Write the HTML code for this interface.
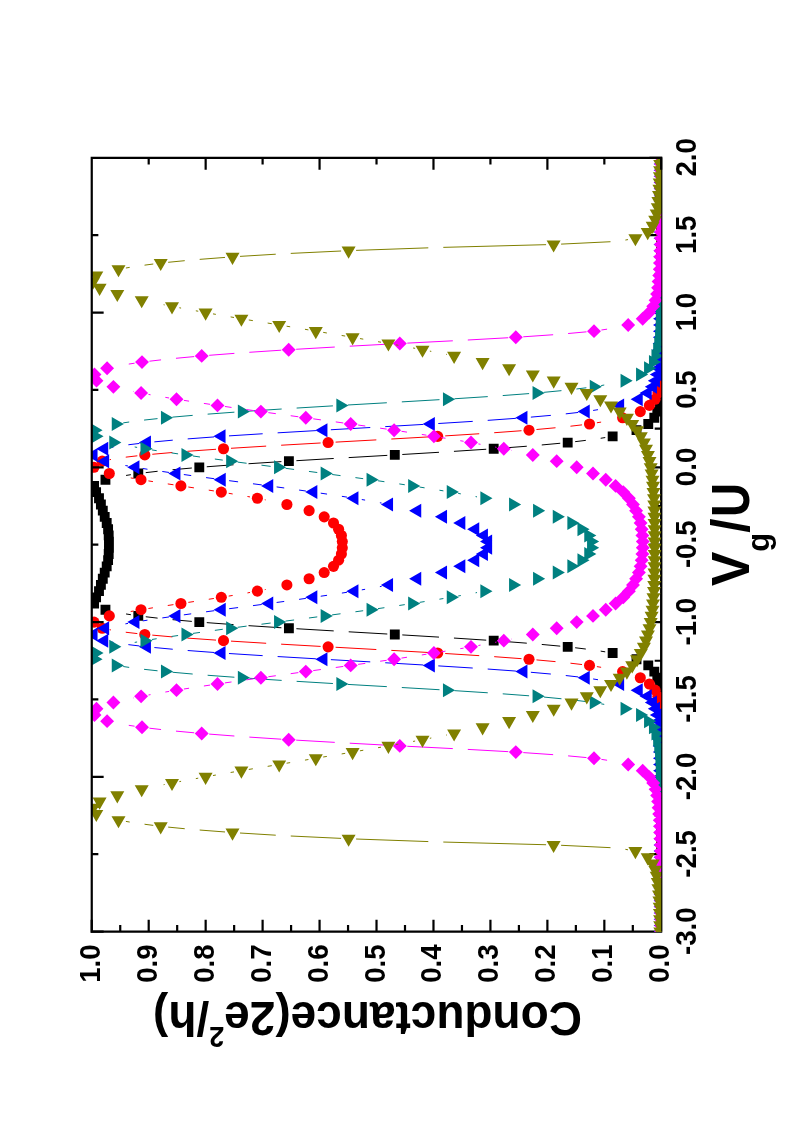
<!DOCTYPE html>
<html><head><meta charset="utf-8"><title>Conductance vs Vg/U</title>
<style>html,body{margin:0;padding:0;background:#fff}body{width:793px;height:1135px;overflow:hidden;font-family:"Liberation Sans",sans-serif}svg{display:block;will-change:transform}</style>
</head><body>
<svg width="793" height="1135" viewBox="0 0 793 1135">
<defs><clipPath id="cp"><rect x="92" y="158" width="570" height="774"/></clipPath></defs>
<rect width="793" height="1135" fill="#fff"/>
<path d="M661.15 156.70000000000002V932.7M90.65 931.6H662.25M661.3 931.60h-11.9M661.3 892.91h-6.6M661.3 854.22h-11.9M661.3 815.53h-6.6M661.3 776.84h-11.9M661.3 738.15h-6.6M661.3 699.46h-11.9M661.3 660.77h-6.6M661.3 622.08h-11.9M661.3 583.39h-6.6M661.3 544.70h-11.9M661.3 506.01h-6.6M661.3 467.32h-11.9M661.3 428.63h-6.6M661.3 389.94h-11.9M661.3 351.25h-6.6M661.3 312.56h-11.9M661.3 273.87h-6.6M661.3 235.18h-11.9M661.3 196.49h-6.6M661.3 157.80h-11.9M661.15 931.6v-11.9M632.82 931.6v-6.6M604.34 931.6v-11.9M575.87 931.6v-6.6M547.39 931.6v-11.9M518.91 931.6v-6.6M490.43 931.6v-11.9M461.96 931.6v-6.6M433.48 931.6v-11.9M405.00 931.6v-6.6M376.52 931.6v-11.9M348.05 931.6v-6.6M319.57 931.6v-11.9M291.09 931.6v-6.6M262.61 931.6v-11.9M234.14 931.6v-6.6M205.66 931.6v-11.9M177.18 931.6v-6.6M148.70 931.6v-11.9M120.23 931.6v-6.6M91.75 931.6v-11.9" stroke="#000" stroke-width="2.2" fill="none" stroke-linecap="butt"/>
<g clip-path="url(#cp)">
<path d="M605.24 651.85L600.68 651.12M585.82 649.04L575.15 647.74M560.23 646.15L541.76 644.44M526.81 643.18L501.18 641.22M486.22 640.16L453.94 638.05M438.97 637.11L402.29 634.91M387.31 634.03L348.69 631.80M333.71 630.92L296.39 628.71M281.42 627.79L248.52 625.66M233.56 624.62L206.78 622.63M191.83 621.40L172.53 619.66M157.61 618.12L145.75 616.75M130.89 614.72L126.05 613.96M126.05 475.44L130.89 474.68M145.75 472.65L157.61 471.28M172.53 469.74L191.83 468.00M206.78 466.77L233.56 464.78M248.52 463.74L281.42 461.61M296.39 460.69L333.71 458.48M348.69 457.60L387.31 455.37M402.29 454.49L438.97 452.29M453.94 451.35L486.22 449.24M501.18 448.18L526.81 446.22M541.76 444.96L560.23 443.25M575.15 441.66L585.82 440.36M600.68 438.28L605.24 437.55" stroke="#000000" stroke-width="1" fill="none"/>
<path d="M656.27 926.67h9.86v9.86h-9.86zM656.27 920.48h9.86v9.86h-9.86zM656.27 914.29h9.86v9.86h-9.86zM656.27 908.10h9.86v9.86h-9.86zM656.27 901.91h9.86v9.86h-9.86zM656.27 895.72h9.86v9.86h-9.86zM656.27 889.53h9.86v9.86h-9.86zM656.27 883.34h9.86v9.86h-9.86zM656.27 877.15h9.86v9.86h-9.86zM656.27 870.96h9.86v9.86h-9.86zM656.27 864.77h9.86v9.86h-9.86zM656.27 858.58h9.86v9.86h-9.86zM656.27 852.39h9.86v9.86h-9.86zM656.26 846.19h9.86v9.86h-9.86zM656.26 840.00h9.86v9.86h-9.86zM656.26 833.81h9.86v9.86h-9.86zM656.26 827.62h9.86v9.86h-9.86zM656.26 821.43h9.86v9.86h-9.86zM656.26 815.24h9.86v9.86h-9.86zM656.26 809.05h9.86v9.86h-9.86zM656.25 802.86h9.86v9.86h-9.86zM656.25 796.67h9.86v9.86h-9.86zM656.25 790.48h9.86v9.86h-9.86zM656.25 784.29h9.86v9.86h-9.86zM656.24 778.10h9.86v9.86h-9.86zM656.24 771.91h9.86v9.86h-9.86zM656.24 765.72h9.86v9.86h-9.86zM656.23 759.53h9.86v9.86h-9.86zM656.23 753.34h9.86v9.86h-9.86zM656.22 747.15h9.86v9.86h-9.86zM656.22 740.96h9.86v9.86h-9.86zM656.21 734.77h9.86v9.86h-9.86zM656.21 728.58h9.86v9.86h-9.86zM656.20 722.39h9.86v9.86h-9.86zM656.20 716.20h9.86v9.86h-9.86zM656.19 710.01h9.86v9.86h-9.86zM656.18 703.82h9.86v9.86h-9.86zM656.18 697.63h9.86v9.86h-9.86zM656.17 691.43h9.86v9.86h-9.86zM655.97 685.24h9.86v9.86h-9.86zM655.07 679.05h9.86v9.86h-9.86zM652.37 672.86h9.86v9.86h-9.86zM649.37 666.67h9.86v9.86h-9.86zM643.33 660.48h9.86v9.86h-9.86zM631.57 654.29h9.86v9.86h-9.86zM607.72 648.10h9.86v9.86h-9.86zM562.77 641.91h9.86v9.86h-9.86zM488.77 635.72h9.86v9.86h-9.86zM389.87 629.53h9.86v9.86h-9.86zM283.97 623.34h9.86v9.86h-9.86zM194.37 617.15h9.86v9.86h-9.86zM133.37 610.96h9.86v9.86h-9.86zM100.52 604.77h9.86v9.86h-9.86zM89.17 598.58h9.86v9.86h-9.86zM91.17 592.39h9.86v9.86h-9.86zM94.07 586.20h9.86v9.86h-9.86zM95.97 580.01h9.86v9.86h-9.86zM97.87 573.82h9.86v9.86h-9.86zM99.77 567.63h9.86v9.86h-9.86zM101.77 561.44h9.86v9.86h-9.86zM103.17 555.25h9.86v9.86h-9.86zM103.77 549.06h9.86v9.86h-9.86zM104.02 542.87h9.86v9.86h-9.86zM104.02 536.67h9.86v9.86h-9.86zM103.77 530.48h9.86v9.86h-9.86zM103.17 524.29h9.86v9.86h-9.86zM101.77 518.10h9.86v9.86h-9.86zM99.77 511.91h9.86v9.86h-9.86zM97.87 505.72h9.86v9.86h-9.86zM95.97 499.53h9.86v9.86h-9.86zM94.07 493.34h9.86v9.86h-9.86zM91.17 487.15h9.86v9.86h-9.86zM89.17 480.96h9.86v9.86h-9.86zM100.52 474.77h9.86v9.86h-9.86zM133.37 468.58h9.86v9.86h-9.86zM194.37 462.39h9.86v9.86h-9.86zM283.97 456.20h9.86v9.86h-9.86zM389.87 450.01h9.86v9.86h-9.86zM488.77 443.82h9.86v9.86h-9.86zM562.77 437.63h9.86v9.86h-9.86zM607.72 431.44h9.86v9.86h-9.86zM631.57 425.25h9.86v9.86h-9.86zM643.33 419.06h9.86v9.86h-9.86zM649.37 412.87h9.86v9.86h-9.86zM652.37 406.68h9.86v9.86h-9.86zM655.07 400.49h9.86v9.86h-9.86zM655.97 394.30h9.86v9.86h-9.86zM656.17 388.11h9.86v9.86h-9.86zM656.18 381.91h9.86v9.86h-9.86zM656.18 375.72h9.86v9.86h-9.86zM656.19 369.53h9.86v9.86h-9.86zM656.20 363.34h9.86v9.86h-9.86zM656.20 357.15h9.86v9.86h-9.86zM656.21 350.96h9.86v9.86h-9.86zM656.21 344.77h9.86v9.86h-9.86zM656.22 338.58h9.86v9.86h-9.86zM656.22 332.39h9.86v9.86h-9.86zM656.23 326.20h9.86v9.86h-9.86zM656.23 320.01h9.86v9.86h-9.86zM656.24 313.82h9.86v9.86h-9.86zM656.24 307.63h9.86v9.86h-9.86zM656.24 301.44h9.86v9.86h-9.86zM656.25 295.25h9.86v9.86h-9.86zM656.25 289.06h9.86v9.86h-9.86zM656.25 282.87h9.86v9.86h-9.86zM656.25 276.68h9.86v9.86h-9.86zM656.26 270.49h9.86v9.86h-9.86zM656.26 264.30h9.86v9.86h-9.86zM656.26 258.11h9.86v9.86h-9.86zM656.26 251.92h9.86v9.86h-9.86zM656.26 245.73h9.86v9.86h-9.86zM656.26 239.54h9.86v9.86h-9.86zM656.26 233.35h9.86v9.86h-9.86zM656.27 227.15h9.86v9.86h-9.86zM656.27 220.96h9.86v9.86h-9.86zM656.27 214.77h9.86v9.86h-9.86zM656.27 208.58h9.86v9.86h-9.86zM656.27 202.39h9.86v9.86h-9.86zM656.27 196.20h9.86v9.86h-9.86zM656.27 190.01h9.86v9.86h-9.86zM656.27 183.82h9.86v9.86h-9.86zM656.27 177.63h9.86v9.86h-9.86zM656.27 171.44h9.86v9.86h-9.86zM656.27 165.25h9.86v9.86h-9.86zM656.27 159.06h9.86v9.86h-9.86zM656.27 152.87h9.86v9.86h-9.86z" fill="#000000"/>
<path d="M601.11 667.30L596.90 666.62M582.05 664.54L570.45 663.19M555.53 661.64L536.47 659.90M521.52 658.68L494.19 656.67M479.22 655.65L445.19 653.50M430.21 652.60L391.32 650.37M376.34 649.52L335.59 647.26M320.61 646.42L281.14 644.17M266.16 643.28L230.99 641.11M216.02 640.12L187.31 638.09M172.36 636.90L152.27 635.12M137.35 633.59L125.76 632.24M110.94 629.95L109.57 629.69M130.70 611.50L133.61 610.99M148.41 608.51L152.94 607.79M167.76 605.49L173.48 604.63M188.32 602.39L193.94 601.54M208.76 599.26L213.89 598.47M228.70 596.10L232.66 595.44M247.44 592.91L250.02 592.45M264.76 589.67L265.68 589.49M265.68 499.91L264.76 499.73M250.02 496.95L247.44 496.49M232.66 493.96L228.70 493.30M213.89 490.93L208.76 490.14M193.94 487.86L188.32 487.01M173.48 484.77L167.76 483.91M152.94 481.61L148.41 480.89M133.61 478.41L130.70 477.90M109.57 459.71L110.94 459.45M125.76 457.16L137.35 455.81M152.27 454.28L172.36 452.50M187.31 451.31L216.02 449.28M230.99 448.29L266.16 446.12M281.14 445.23L320.61 442.98M335.59 442.14L376.34 439.88M391.32 439.03L430.21 436.80M445.19 435.90L479.22 433.75M494.19 432.73L521.52 430.72M536.47 429.50L555.53 427.76M570.45 426.21L582.05 424.86M596.90 422.78L601.11 422.10" stroke="#ff0000" stroke-width="1" fill="none"/>
<g fill="#ff0000"><circle cx="661.20" cy="931.60" r="5.55"/><circle cx="661.20" cy="925.41" r="5.55"/><circle cx="661.20" cy="919.22" r="5.55"/><circle cx="661.20" cy="913.03" r="5.55"/><circle cx="661.20" cy="906.84" r="5.55"/><circle cx="661.20" cy="900.65" r="5.55"/><circle cx="661.20" cy="894.46" r="5.55"/><circle cx="661.20" cy="888.27" r="5.55"/><circle cx="661.19" cy="882.08" r="5.55"/><circle cx="661.19" cy="875.89" r="5.55"/><circle cx="661.19" cy="869.70" r="5.55"/><circle cx="661.18" cy="863.51" r="5.55"/><circle cx="661.18" cy="857.32" r="5.55"/><circle cx="661.18" cy="851.12" r="5.55"/><circle cx="661.17" cy="844.93" r="5.55"/><circle cx="661.17" cy="838.74" r="5.55"/><circle cx="661.16" cy="832.55" r="5.55"/><circle cx="661.15" cy="826.36" r="5.55"/><circle cx="661.14" cy="820.17" r="5.55"/><circle cx="661.13" cy="813.98" r="5.55"/><circle cx="661.12" cy="807.79" r="5.55"/><circle cx="661.11" cy="801.60" r="5.55"/><circle cx="661.10" cy="795.41" r="5.55"/><circle cx="661.09" cy="789.22" r="5.55"/><circle cx="661.07" cy="783.03" r="5.55"/><circle cx="661.06" cy="776.84" r="5.55"/><circle cx="661.04" cy="770.65" r="5.55"/><circle cx="661.02" cy="764.46" r="5.55"/><circle cx="661.00" cy="758.27" r="5.55"/><circle cx="660.98" cy="752.08" r="5.55"/><circle cx="660.96" cy="745.89" r="5.55"/><circle cx="660.94" cy="739.70" r="5.55"/><circle cx="660.91" cy="733.51" r="5.55"/><circle cx="660.89" cy="727.32" r="5.55"/><circle cx="660.86" cy="721.13" r="5.55"/><circle cx="660.83" cy="714.94" r="5.55"/><circle cx="660.80" cy="708.75" r="5.55"/><circle cx="659.80" cy="702.56" r="5.55"/><circle cx="657.90" cy="696.36" r="5.55"/><circle cx="655.10" cy="690.17" r="5.55"/><circle cx="649.40" cy="683.98" r="5.55"/><circle cx="640.30" cy="677.79" r="5.55"/><circle cx="622.60" cy="671.60" r="5.55"/><circle cx="589.50" cy="665.41" r="5.55"/><circle cx="529.00" cy="659.22" r="5.55"/><circle cx="437.70" cy="653.03" r="5.55"/><circle cx="328.10" cy="646.84" r="5.55"/><circle cx="223.50" cy="640.65" r="5.55"/><circle cx="144.80" cy="634.46" r="5.55"/><circle cx="102.20" cy="628.27" r="5.55"/><circle cx="94.00" cy="622.08" r="5.55"/><circle cx="109.30" cy="615.89" r="5.55"/><circle cx="141.00" cy="609.70" r="5.55"/><circle cx="180.90" cy="603.51" r="5.55"/><circle cx="221.30" cy="597.32" r="5.55"/><circle cx="257.40" cy="591.13" r="5.55"/><circle cx="286.90" cy="584.94" r="5.55"/><circle cx="309.10" cy="578.75" r="5.55"/><circle cx="324.20" cy="572.56" r="5.55"/><circle cx="333.50" cy="566.37" r="5.55"/><circle cx="338.60" cy="560.18" r="5.55"/><circle cx="341.40" cy="553.99" r="5.55"/><circle cx="342.30" cy="547.80" r="5.55"/><circle cx="342.30" cy="541.60" r="5.55"/><circle cx="341.40" cy="535.41" r="5.55"/><circle cx="338.60" cy="529.22" r="5.55"/><circle cx="333.50" cy="523.03" r="5.55"/><circle cx="324.20" cy="516.84" r="5.55"/><circle cx="309.10" cy="510.65" r="5.55"/><circle cx="286.90" cy="504.46" r="5.55"/><circle cx="257.40" cy="498.27" r="5.55"/><circle cx="221.30" cy="492.08" r="5.55"/><circle cx="180.90" cy="485.89" r="5.55"/><circle cx="141.00" cy="479.70" r="5.55"/><circle cx="109.30" cy="473.51" r="5.55"/><circle cx="94.00" cy="467.32" r="5.55"/><circle cx="102.20" cy="461.13" r="5.55"/><circle cx="144.80" cy="454.94" r="5.55"/><circle cx="223.50" cy="448.75" r="5.55"/><circle cx="328.10" cy="442.56" r="5.55"/><circle cx="437.70" cy="436.37" r="5.55"/><circle cx="529.00" cy="430.18" r="5.55"/><circle cx="589.50" cy="423.99" r="5.55"/><circle cx="622.60" cy="417.80" r="5.55"/><circle cx="640.30" cy="411.61" r="5.55"/><circle cx="649.40" cy="405.42" r="5.55"/><circle cx="655.10" cy="399.23" r="5.55"/><circle cx="657.90" cy="393.04" r="5.55"/><circle cx="659.80" cy="386.84" r="5.55"/><circle cx="660.80" cy="380.65" r="5.55"/><circle cx="660.83" cy="374.46" r="5.55"/><circle cx="660.86" cy="368.27" r="5.55"/><circle cx="660.89" cy="362.08" r="5.55"/><circle cx="660.91" cy="355.89" r="5.55"/><circle cx="660.94" cy="349.70" r="5.55"/><circle cx="660.96" cy="343.51" r="5.55"/><circle cx="660.98" cy="337.32" r="5.55"/><circle cx="661.00" cy="331.13" r="5.55"/><circle cx="661.02" cy="324.94" r="5.55"/><circle cx="661.04" cy="318.75" r="5.55"/><circle cx="661.06" cy="312.56" r="5.55"/><circle cx="661.07" cy="306.37" r="5.55"/><circle cx="661.09" cy="300.18" r="5.55"/><circle cx="661.10" cy="293.99" r="5.55"/><circle cx="661.11" cy="287.80" r="5.55"/><circle cx="661.12" cy="281.61" r="5.55"/><circle cx="661.13" cy="275.42" r="5.55"/><circle cx="661.14" cy="269.23" r="5.55"/><circle cx="661.15" cy="263.04" r="5.55"/><circle cx="661.16" cy="256.85" r="5.55"/><circle cx="661.17" cy="250.66" r="5.55"/><circle cx="661.17" cy="244.47" r="5.55"/><circle cx="661.18" cy="238.28" r="5.55"/><circle cx="661.18" cy="232.08" r="5.55"/><circle cx="661.18" cy="225.89" r="5.55"/><circle cx="661.19" cy="219.70" r="5.55"/><circle cx="661.19" cy="213.51" r="5.55"/><circle cx="661.19" cy="207.32" r="5.55"/><circle cx="661.20" cy="201.13" r="5.55"/><circle cx="661.20" cy="194.94" r="5.55"/><circle cx="661.20" cy="188.75" r="5.55"/><circle cx="661.20" cy="182.56" r="5.55"/><circle cx="661.20" cy="176.37" r="5.55"/><circle cx="661.20" cy="170.18" r="5.55"/><circle cx="661.20" cy="163.99" r="5.55"/><circle cx="661.20" cy="157.80" r="5.55"/></g>
<path d="M598.01 679.73L593.11 678.96M578.25 676.95L565.77 675.54M550.85 674.04L530.87 672.27M515.92 671.07L487.70 669.04M472.74 668.04L438.29 665.88M423.31 664.98L385.23 662.75M370.25 661.89L330.89 659.65M315.91 658.79L277.63 656.56M262.66 655.65L228.98 653.51M214.02 652.47L187.70 650.50M172.75 649.24L154.37 647.54M139.45 645.96L128.35 644.63M113.53 642.38L111.57 642.02M125.38 623.86L128.02 623.39M142.81 620.90L147.47 620.16M162.30 617.92L168.98 616.96M183.83 614.86L191.21 613.83M206.07 611.80L214.27 610.70M229.14 608.73L238.09 607.57M252.97 605.63L261.76 604.48M276.63 602.48L284.22 601.44M299.07 599.35L305.88 598.38M320.72 596.23L327.05 595.31M341.88 593.07L346.99 592.28M361.79 589.86L365.12 589.30M379.88 586.65L381.63 586.32M381.63 503.08L379.88 502.75M365.12 500.10L361.79 499.54M346.99 497.12L341.88 496.33M327.05 494.09L320.72 493.17M305.88 491.02L299.07 490.05M284.22 487.96L276.63 486.92M261.76 484.92L252.97 483.77M238.09 481.83L229.14 480.67M214.27 478.70L206.07 477.60M191.21 475.57L183.83 474.54M168.98 472.44L162.30 471.48M147.47 469.24L142.81 468.50M128.02 466.01L125.38 465.54M111.57 447.38L113.53 447.02M128.35 444.77L139.45 443.44M154.37 441.86L172.75 440.16M187.70 438.90L214.02 436.93M228.98 435.89L262.66 433.75M277.63 432.84L315.91 430.61M330.89 429.75L370.25 427.51M385.23 426.65L423.31 424.42M438.29 423.52L472.74 421.36M487.70 420.36L515.92 418.33M530.87 417.13L550.85 415.36M565.77 413.86L578.25 412.45M593.11 410.44L598.01 409.67" stroke="#0000ff" stroke-width="1" fill="none"/>
<path d="M665.74 924.60L665.74 938.60L653.62 931.60zM665.74 918.41L665.74 932.41L653.62 925.41zM665.74 912.22L665.74 926.22L653.62 919.22zM665.74 906.03L665.74 920.03L653.62 913.03zM665.73 899.84L665.73 913.84L653.61 906.84zM665.73 893.65L665.73 907.65L653.61 900.65zM665.72 887.46L665.72 901.46L653.60 894.46zM665.72 881.27L665.72 895.27L653.60 888.27zM665.71 875.08L665.71 889.08L653.59 882.08zM665.70 868.89L665.70 882.89L653.58 875.89zM665.69 862.70L665.69 876.70L653.57 869.70zM665.68 856.51L665.68 870.51L653.56 863.51zM665.67 850.32L665.67 864.32L653.55 857.32zM665.66 844.12L665.66 858.12L653.54 851.12zM665.64 837.93L665.64 851.93L653.52 844.93zM665.63 831.74L665.63 845.74L653.51 838.74zM665.61 825.55L665.61 839.55L653.49 832.55zM665.60 819.36L665.60 833.36L653.48 826.36zM665.58 813.17L665.58 827.17L653.46 820.17zM665.56 806.98L665.56 820.98L653.44 813.98zM665.54 800.79L665.54 814.79L653.42 807.79zM665.50 794.60L665.50 808.60L653.38 801.60zM665.45 788.41L665.45 802.41L653.33 795.41zM665.37 782.22L665.37 796.22L653.25 789.22zM665.30 776.03L665.30 790.03L653.18 783.03zM665.24 769.84L665.24 783.84L653.12 776.84zM665.19 763.65L665.19 777.65L653.07 770.65zM665.14 757.46L665.14 771.46L653.02 764.46zM665.04 751.27L665.04 765.27L652.92 758.27zM664.94 745.08L664.94 759.08L652.82 752.08zM664.74 738.89L664.74 752.89L652.62 745.89zM664.44 732.70L664.44 746.70L652.32 739.70zM664.04 726.51L664.04 740.51L651.92 733.51zM663.64 720.32L663.64 734.32L651.52 727.32zM663.04 714.13L663.04 728.13L650.92 721.13zM661.94 707.94L661.94 721.94L649.82 714.94zM659.94 701.75L659.94 715.75L647.82 708.75zM656.94 695.56L656.94 709.56L644.82 702.56zM651.74 689.36L651.74 703.36L639.62 696.36zM642.74 683.17L642.74 697.17L630.62 690.17zM624.14 676.98L624.14 690.98L612.02 683.98zM589.74 670.79L589.74 684.79L577.62 677.79zM527.44 664.60L527.44 678.60L515.32 671.60zM434.84 658.41L434.84 672.41L422.72 665.41zM327.44 652.22L327.44 666.22L315.32 659.22zM225.54 646.03L225.54 660.03L213.42 653.03zM150.94 639.84L150.94 653.84L138.82 646.84zM108.24 633.65L108.24 647.65L96.12 640.65zM97.54 627.46L97.54 641.46L85.42 634.46zM109.14 621.27L109.14 635.27L97.02 628.27zM139.44 615.08L139.44 629.08L127.32 622.08zM180.44 608.89L180.44 622.89L168.32 615.89zM225.74 602.70L225.74 616.70L213.62 609.70zM273.24 596.51L273.24 610.51L261.12 603.51zM317.34 590.32L317.34 604.32L305.22 597.32zM358.44 584.13L358.44 598.13L346.32 591.13zM393.04 577.94L393.04 591.94L380.92 584.94zM421.24 571.75L421.24 585.75L409.12 578.75zM447.04 565.56L447.04 579.56L434.92 572.56zM465.34 559.37L465.34 573.37L453.22 566.37zM479.24 553.18L479.24 567.18L467.12 560.18zM487.94 546.99L487.94 560.99L475.82 553.99zM492.14 540.80L492.14 554.80L480.02 547.80zM492.14 534.60L492.14 548.60L480.02 541.60zM487.94 528.41L487.94 542.41L475.82 535.41zM479.24 522.22L479.24 536.22L467.12 529.22zM465.34 516.03L465.34 530.03L453.22 523.03zM447.04 509.84L447.04 523.84L434.92 516.84zM421.24 503.65L421.24 517.65L409.12 510.65zM393.04 497.46L393.04 511.46L380.92 504.46zM358.44 491.27L358.44 505.27L346.32 498.27zM317.34 485.08L317.34 499.08L305.22 492.08zM273.24 478.89L273.24 492.89L261.12 485.89zM225.74 472.70L225.74 486.70L213.62 479.70zM180.44 466.51L180.44 480.51L168.32 473.51zM139.44 460.32L139.44 474.32L127.32 467.32zM109.14 454.13L109.14 468.13L97.02 461.13zM97.54 447.94L97.54 461.94L85.42 454.94zM108.24 441.75L108.24 455.75L96.12 448.75zM150.94 435.56L150.94 449.56L138.82 442.56zM225.54 429.37L225.54 443.37L213.42 436.37zM327.44 423.18L327.44 437.18L315.32 430.18zM434.84 416.99L434.84 430.99L422.72 423.99zM527.44 410.80L527.44 424.80L515.32 417.80zM589.74 404.61L589.74 418.61L577.62 411.61zM624.14 398.42L624.14 412.42L612.02 405.42zM642.74 392.23L642.74 406.23L630.62 399.23zM651.74 386.04L651.74 400.04L639.62 393.04zM656.94 379.84L656.94 393.84L644.82 386.84zM659.94 373.65L659.94 387.65L647.82 380.65zM661.94 367.46L661.94 381.46L649.82 374.46zM663.04 361.27L663.04 375.27L650.92 368.27zM663.64 355.08L663.64 369.08L651.52 362.08zM664.04 348.89L664.04 362.89L651.92 355.89zM664.44 342.70L664.44 356.70L652.32 349.70zM664.74 336.51L664.74 350.51L652.62 343.51zM664.94 330.32L664.94 344.32L652.82 337.32zM665.04 324.13L665.04 338.13L652.92 331.13zM665.14 317.94L665.14 331.94L653.02 324.94zM665.19 311.75L665.19 325.75L653.07 318.75zM665.24 305.56L665.24 319.56L653.12 312.56zM665.30 299.37L665.30 313.37L653.18 306.37zM665.37 293.18L665.37 307.18L653.25 300.18zM665.45 286.99L665.45 300.99L653.33 293.99zM665.50 280.80L665.50 294.80L653.38 287.80zM665.54 274.61L665.54 288.61L653.42 281.61zM665.56 268.42L665.56 282.42L653.44 275.42zM665.58 262.23L665.58 276.23L653.46 269.23zM665.60 256.04L665.60 270.04L653.48 263.04zM665.61 249.85L665.61 263.85L653.49 256.85zM665.63 243.66L665.63 257.66L653.51 250.66zM665.64 237.47L665.64 251.47L653.52 244.47zM665.66 231.28L665.66 245.28L653.54 238.28zM665.67 225.08L665.67 239.08L653.55 232.08zM665.68 218.89L665.68 232.89L653.56 225.89zM665.69 212.70L665.69 226.70L653.57 219.70zM665.70 206.51L665.70 220.51L653.58 213.51zM665.71 200.32L665.71 214.32L653.59 207.32zM665.72 194.13L665.72 208.13L653.60 201.13zM665.72 187.94L665.72 201.94L653.60 194.94zM665.73 181.75L665.73 195.75L653.61 188.75zM665.73 175.56L665.73 189.56L653.61 182.56zM665.74 169.37L665.74 183.37L653.62 176.37zM665.74 163.18L665.74 177.18L653.62 170.18zM665.74 156.99L665.74 170.99L653.62 163.99zM665.74 150.80L665.74 164.80L653.62 157.80z" fill="#0000ff"/>
<path d="M604.24 704.37L601.19 703.84M586.36 701.63L576.37 700.39M561.46 698.75L544.07 697.08M529.12 695.81L502.72 693.83M487.76 692.79L454.48 690.65M439.51 689.73L401.82 687.52M386.84 686.65L347.89 684.41M332.91 683.53L296.63 681.34M281.66 680.40L249.38 678.28M234.42 677.24L207.63 675.25M192.68 674.04L172.47 672.26M157.54 670.79L144.07 669.32M129.20 667.40L123.22 666.52M134.69 642.42L137.12 641.98M151.91 639.48L156.68 638.73M171.51 636.48L178.08 635.53M192.93 633.41L199.99 632.41M214.85 630.36L222.77 629.28M237.64 627.30L246.59 626.14M261.46 624.22L270.66 623.04M285.54 621.10L294.09 619.97M308.96 617.99L317.27 616.88M332.13 614.90L340.54 613.78M355.41 611.78L363.17 610.72M378.02 608.62L384.43 607.69M399.26 605.48L404.79 604.64M419.61 602.35L424.60 601.57M439.41 599.19L443.40 598.54M458.18 596.01L460.84 595.54M475.59 592.81L477.03 592.54M477.03 496.86L475.59 496.59M460.84 493.86L458.18 493.39M443.40 490.86L439.41 490.21M424.60 487.83L419.61 487.05M404.79 484.76L399.26 483.92M384.43 481.71L378.02 480.78M363.17 478.68L355.41 477.62M340.54 475.62L332.13 474.50M317.27 472.52L308.96 471.41M294.09 469.43L285.54 468.30M270.66 466.36L261.46 465.18M246.59 463.26L237.64 462.10M222.77 460.12L214.85 459.04M199.99 456.99L192.93 455.99M178.08 453.87L171.51 452.92M156.68 450.67L151.91 449.92M137.12 447.42L134.69 446.98M123.22 422.88L129.20 422.00M144.07 420.08L157.54 418.61M172.47 417.14L192.68 415.36M207.63 414.15L234.42 412.16M249.38 411.12L281.66 409.00M296.63 408.06L332.91 405.87M347.89 404.99L386.84 402.75M401.82 401.88L439.51 399.67M454.48 398.75L487.76 396.61M502.72 395.57L529.12 393.59M544.07 392.32L561.46 390.65M576.37 389.01L586.36 387.77M601.19 385.56L604.24 385.03" stroke="#008080" stroke-width="1" fill="none"/>
<path d="M657.16 924.60L657.16 938.60L669.28 931.60zM657.16 918.41L657.16 932.41L669.28 925.41zM657.15 912.22L657.15 926.22L669.27 919.22zM657.14 906.03L657.14 920.03L669.26 913.03zM657.12 899.84L657.12 913.84L669.24 906.84zM657.10 893.65L657.10 907.65L669.22 900.65zM657.07 887.46L657.07 901.46L669.19 894.46zM657.05 881.27L657.05 895.27L669.17 888.27zM657.02 875.08L657.02 889.08L669.14 882.08zM656.99 868.89L656.99 882.89L669.11 875.89zM656.96 862.70L656.96 876.70L669.08 869.70zM656.93 856.51L656.93 870.51L669.05 863.51zM656.88 850.32L656.88 864.32L669.00 857.32zM656.83 844.12L656.83 858.12L668.95 851.12zM656.77 837.93L656.77 851.93L668.89 844.93zM656.71 831.74L656.71 845.74L668.83 838.74zM656.64 825.55L656.64 839.55L668.76 832.55zM656.57 819.36L656.57 833.36L668.69 826.36zM656.50 813.17L656.50 827.17L668.62 820.17zM656.43 806.98L656.43 820.98L668.55 813.98zM656.36 800.79L656.36 814.79L668.48 807.79zM656.29 794.60L656.29 808.60L668.41 801.60zM656.21 788.41L656.21 802.41L668.33 795.41zM656.13 782.22L656.13 796.22L668.25 789.22zM656.05 776.03L656.05 790.03L668.17 783.03zM655.96 769.84L655.96 783.84L668.08 776.84zM655.86 763.65L655.86 777.65L667.98 770.65zM655.76 757.46L655.76 771.46L667.88 764.46zM655.46 751.27L655.46 765.27L667.58 758.27zM655.06 745.08L655.06 759.08L667.18 752.08zM654.26 738.89L654.26 752.89L666.38 745.89zM653.16 732.70L653.16 746.70L665.28 739.70zM651.46 726.51L651.46 740.51L663.58 733.51zM648.96 720.32L648.96 734.32L661.08 727.32zM644.06 714.13L644.06 728.13L656.18 721.13zM636.06 707.94L636.06 721.94L648.18 714.94zM620.56 701.75L620.56 715.75L632.68 708.75zM589.76 695.56L589.76 709.56L601.88 702.56zM532.56 689.36L532.56 703.36L544.68 696.36zM442.96 683.17L442.96 697.17L455.08 690.17zM336.36 676.98L336.36 690.98L348.48 683.98zM237.86 670.79L237.86 684.79L249.98 677.79zM160.96 664.60L160.96 678.60L173.08 671.60zM111.76 658.41L111.76 672.41L123.88 665.41zM90.46 652.22L90.46 666.22L102.58 659.22zM91.46 646.03L91.46 660.03L103.58 653.03zM109.26 639.84L109.26 653.84L121.38 646.84zM140.46 633.65L140.46 647.65L152.58 640.65zM181.46 627.46L181.46 641.46L193.58 634.46zM226.16 621.27L226.16 635.27L238.28 628.27zM274.06 615.08L274.06 629.08L286.18 622.08zM320.66 608.89L320.66 622.89L332.78 615.89zM366.56 602.70L366.56 616.70L378.68 609.70zM408.16 596.51L408.16 610.51L420.28 603.51zM446.76 590.32L446.76 604.32L458.88 597.32zM480.36 584.13L480.36 598.13L492.48 591.13zM509.06 577.94L509.06 591.94L521.18 584.94zM533.06 571.75L533.06 585.75L545.18 578.75zM552.76 565.56L552.76 579.56L564.88 572.56zM567.36 559.37L567.36 573.37L579.48 566.37zM577.46 553.18L577.46 567.18L589.58 560.18zM584.26 546.99L584.26 560.99L596.38 553.99zM587.06 540.80L587.06 554.80L599.18 547.80zM587.06 534.60L587.06 548.60L599.18 541.60zM584.26 528.41L584.26 542.41L596.38 535.41zM577.46 522.22L577.46 536.22L589.58 529.22zM567.36 516.03L567.36 530.03L579.48 523.03zM552.76 509.84L552.76 523.84L564.88 516.84zM533.06 503.65L533.06 517.65L545.18 510.65zM509.06 497.46L509.06 511.46L521.18 504.46zM480.36 491.27L480.36 505.27L492.48 498.27zM446.76 485.08L446.76 499.08L458.88 492.08zM408.16 478.89L408.16 492.89L420.28 485.89zM366.56 472.70L366.56 486.70L378.68 479.70zM320.66 466.51L320.66 480.51L332.78 473.51zM274.06 460.32L274.06 474.32L286.18 467.32zM226.16 454.13L226.16 468.13L238.28 461.13zM181.46 447.94L181.46 461.94L193.58 454.94zM140.46 441.75L140.46 455.75L152.58 448.75zM109.26 435.56L109.26 449.56L121.38 442.56zM91.46 429.37L91.46 443.37L103.58 436.37zM90.46 423.18L90.46 437.18L102.58 430.18zM111.76 416.99L111.76 430.99L123.88 423.99zM160.96 410.80L160.96 424.80L173.08 417.80zM237.86 404.61L237.86 418.61L249.98 411.61zM336.36 398.42L336.36 412.42L348.48 405.42zM442.96 392.23L442.96 406.23L455.08 399.23zM532.56 386.04L532.56 400.04L544.68 393.04zM589.76 379.84L589.76 393.84L601.88 386.84zM620.56 373.65L620.56 387.65L632.68 380.65zM636.06 367.46L636.06 381.46L648.18 374.46zM644.06 361.27L644.06 375.27L656.18 368.27zM648.96 355.08L648.96 369.08L661.08 362.08zM651.46 348.89L651.46 362.89L663.58 355.89zM653.16 342.70L653.16 356.70L665.28 349.70zM654.26 336.51L654.26 350.51L666.38 343.51zM655.06 330.32L655.06 344.32L667.18 337.32zM655.46 324.13L655.46 338.13L667.58 331.13zM655.76 317.94L655.76 331.94L667.88 324.94zM655.86 311.75L655.86 325.75L667.98 318.75zM655.96 305.56L655.96 319.56L668.08 312.56zM656.05 299.37L656.05 313.37L668.17 306.37zM656.13 293.18L656.13 307.18L668.25 300.18zM656.21 286.99L656.21 300.99L668.33 293.99zM656.29 280.80L656.29 294.80L668.41 287.80zM656.36 274.61L656.36 288.61L668.48 281.61zM656.43 268.42L656.43 282.42L668.55 275.42zM656.50 262.23L656.50 276.23L668.62 269.23zM656.57 256.04L656.57 270.04L668.69 263.04zM656.64 249.85L656.64 263.85L668.76 256.85zM656.71 243.66L656.71 257.66L668.83 250.66zM656.77 237.47L656.77 251.47L668.89 244.47zM656.83 231.28L656.83 245.28L668.95 238.28zM656.88 225.08L656.88 239.08L669.00 232.08zM656.93 218.89L656.93 232.89L669.05 225.89zM656.96 212.70L656.96 226.70L669.08 219.70zM656.99 206.51L656.99 220.51L669.11 213.51zM657.02 200.32L657.02 214.32L669.14 207.32zM657.05 194.13L657.05 208.13L669.17 201.13zM657.07 187.94L657.07 201.94L669.19 194.94zM657.10 181.75L657.10 195.75L669.22 188.75zM657.12 175.56L657.12 189.56L669.24 182.56zM657.14 169.37L657.14 183.37L669.26 176.37zM657.15 163.18L657.15 177.18L669.27 170.18zM657.16 156.99L657.16 170.99L669.28 163.99zM657.16 150.80L657.16 164.80L669.28 157.80z" fill="#008080"/>
<path d="M607.09 760.24L601.42 759.39M586.53 757.58L568.10 755.87M553.15 754.66L523.28 752.60M508.31 751.66L467.80 749.40M452.82 748.60L407.29 746.27M392.31 745.49L349.75 743.20M334.77 742.36L296.19 740.13M281.22 739.20L249.34 737.10M234.38 736.03L209.18 734.08M194.23 732.81L175.97 731.11M161.06 729.54L149.45 728.19M134.58 726.20L128.78 725.33M133.34 697.96L133.75 697.87M148.48 695.01L150.56 694.63M165.33 692.04L169.10 691.41M183.91 689.03L189.07 688.23M203.90 685.99L210.08 685.08M224.92 682.91L231.53 681.96M246.38 679.84L253.47 678.84M268.33 676.76L275.83 675.73M290.68 673.68L298.37 672.62M313.23 670.58L320.92 669.53M335.77 667.48L343.27 666.44M358.13 664.37L365.30 663.36M380.15 661.24L386.68 660.30M401.51 658.09L406.98 657.26M421.80 654.95L426.49 654.21M441.30 651.83L445.50 651.14M460.29 648.67L463.61 648.11M478.38 645.49L480.53 645.10M495.27 642.31L496.44 642.08M511.15 639.14L511.53 639.06M511.53 450.34L511.15 450.26M496.44 447.32L495.27 447.09M480.53 444.30L478.38 443.91M463.61 441.29L460.29 440.73M445.50 438.26L441.30 437.57M426.49 435.19L421.80 434.45M406.98 432.14L401.51 431.31M386.68 429.10L380.15 428.16M365.30 426.04L358.13 425.03M343.27 422.96L335.77 421.92M320.92 419.87L313.23 418.82M298.37 416.78L290.68 415.72M275.83 413.67L268.33 412.64M253.47 410.56L246.38 409.56M231.53 407.44L224.92 406.49M210.08 404.32L203.90 403.41M189.07 401.17L183.91 400.37M169.10 397.99L165.33 397.36M150.56 394.77L148.48 394.39M133.75 391.53L133.34 391.44M128.78 364.07L134.58 363.20M149.45 361.21L161.06 359.86M175.97 358.29L194.23 356.59M209.18 355.32L234.38 353.37M249.34 352.30L281.22 350.20M296.19 349.27L334.77 347.04M349.75 346.20L392.31 343.91M407.29 343.13L452.82 340.80M467.80 340.00L508.31 337.74M523.28 336.80L553.15 334.74M568.10 333.53L586.53 331.82M601.42 330.01L607.09 329.16" stroke="#ff00ff" stroke-width="1" fill="none"/>
<path d="M654.25 931.60L661.20 924.65L668.15 931.60L661.20 938.55zM654.25 925.41L661.20 918.46L668.15 925.41L661.20 932.36zM654.25 919.22L661.20 912.27L668.15 919.22L661.20 926.17zM654.24 913.03L661.19 906.08L668.14 913.03L661.19 919.98zM654.24 906.84L661.19 899.89L668.14 906.84L661.19 913.79zM654.23 900.65L661.18 893.70L668.13 900.65L661.18 907.60zM654.21 894.46L661.16 887.51L668.11 894.46L661.16 901.41zM654.20 888.27L661.15 881.32L668.10 888.27L661.15 895.22zM654.18 882.08L661.13 875.13L668.08 882.08L661.13 889.03zM654.15 875.89L661.10 868.94L668.05 875.89L661.10 882.84zM654.12 869.70L661.07 862.75L668.02 869.70L661.07 876.65zM654.09 863.51L661.04 856.56L667.99 863.51L661.04 870.46zM654.05 857.32L661.00 850.37L667.95 857.32L661.00 864.27zM654.00 851.12L660.95 844.17L667.90 851.12L660.95 858.07zM653.95 844.93L660.90 837.98L667.85 844.93L660.90 851.88zM653.55 838.74L660.50 831.79L667.45 838.74L660.50 845.69zM653.25 832.55L660.20 825.60L667.15 832.55L660.20 839.50zM653.05 826.36L660.00 819.41L666.95 826.36L660.00 833.31zM652.85 820.17L659.80 813.22L666.75 820.17L659.80 827.12zM652.25 813.98L659.20 807.03L666.15 813.98L659.20 820.93zM651.65 807.79L658.60 800.84L665.55 807.79L658.60 814.74zM651.15 801.60L658.10 794.65L665.05 801.60L658.10 808.55zM650.15 795.41L657.10 788.46L664.05 795.41L657.10 802.36zM648.65 789.22L655.60 782.27L662.55 789.22L655.60 796.17zM646.25 783.03L653.20 776.08L660.15 783.03L653.20 789.98zM642.25 776.84L649.20 769.89L656.15 776.84L649.20 783.79zM635.75 770.65L642.70 763.70L649.65 770.65L642.70 777.60zM621.25 764.46L628.20 757.51L635.15 764.46L628.20 771.41zM587.05 758.27L594.00 751.32L600.95 758.27L594.00 765.22zM508.85 752.08L515.80 745.13L522.75 752.08L515.80 759.03zM392.85 745.89L399.80 738.94L406.75 745.89L399.80 752.84zM281.75 739.70L288.70 732.75L295.65 739.70L288.70 746.65zM194.75 733.51L201.70 726.56L208.65 733.51L201.70 740.46zM135.05 727.32L142.00 720.37L148.95 727.32L142.00 734.27zM100.15 721.13L107.10 714.18L114.05 721.13L107.10 728.08zM87.55 714.94L94.50 707.99L101.45 714.94L94.50 721.89zM89.55 708.75L96.50 701.80L103.45 708.75L96.50 715.70zM106.45 702.56L113.40 695.61L120.35 702.56L113.40 709.51zM134.15 696.36L141.10 689.41L148.05 696.36L141.10 703.31zM169.55 690.17L176.50 683.22L183.45 690.17L176.50 697.12zM210.55 683.98L217.50 677.03L224.45 683.98L217.50 690.93zM253.95 677.79L260.90 670.84L267.85 677.79L260.90 684.74zM298.85 671.60L305.80 664.65L312.75 671.60L305.80 678.55zM343.75 665.41L350.70 658.46L357.65 665.41L350.70 672.36zM387.15 659.22L394.10 652.27L401.05 659.22L394.10 666.17zM426.95 653.03L433.90 646.08L440.85 653.03L433.90 659.98zM464.05 646.84L471.00 639.89L477.95 646.84L471.00 653.79zM496.85 640.65L503.80 633.70L510.75 640.65L503.80 647.60zM525.85 634.46L532.80 627.51L539.75 634.46L532.80 641.41zM549.75 628.27L556.70 621.32L563.65 628.27L556.70 635.22zM569.75 622.08L576.70 615.13L583.65 622.08L576.70 629.03zM586.05 615.89L593.00 608.94L599.95 615.89L593.00 622.84zM598.81 609.70L605.76 602.75L612.71 609.70L605.76 616.65zM608.65 603.51L615.60 596.56L622.55 603.51L615.60 610.46zM616.35 597.32L623.30 590.37L630.25 597.32L623.30 604.27zM621.95 591.13L628.90 584.18L635.85 591.13L628.90 598.08zM626.05 584.94L633.00 577.99L639.95 584.94L633.00 591.89zM629.15 578.75L636.10 571.80L643.05 578.75L636.10 585.70zM631.95 572.56L638.90 565.61L645.85 572.56L638.90 579.51zM633.65 566.37L640.60 559.42L647.55 566.37L640.60 573.32zM634.75 560.18L641.70 553.23L648.65 560.18L641.70 567.13zM635.45 553.99L642.40 547.04L649.35 553.99L642.40 560.94zM635.85 547.80L642.80 540.85L649.75 547.80L642.80 554.75zM635.85 541.60L642.80 534.65L649.75 541.60L642.80 548.55zM635.45 535.41L642.40 528.46L649.35 535.41L642.40 542.36zM634.75 529.22L641.70 522.27L648.65 529.22L641.70 536.17zM633.65 523.03L640.60 516.08L647.55 523.03L640.60 529.98zM631.95 516.84L638.90 509.89L645.85 516.84L638.90 523.79zM629.15 510.65L636.10 503.70L643.05 510.65L636.10 517.60zM626.05 504.46L633.00 497.51L639.95 504.46L633.00 511.41zM621.95 498.27L628.90 491.32L635.85 498.27L628.90 505.22zM616.35 492.08L623.30 485.13L630.25 492.08L623.30 499.03zM608.65 485.89L615.60 478.94L622.55 485.89L615.60 492.84zM598.81 479.70L605.76 472.75L612.71 479.70L605.76 486.65zM586.05 473.51L593.00 466.56L599.95 473.51L593.00 480.46zM569.75 467.32L576.70 460.37L583.65 467.32L576.70 474.27zM549.75 461.13L556.70 454.18L563.65 461.13L556.70 468.08zM525.85 454.94L532.80 447.99L539.75 454.94L532.80 461.89zM496.85 448.75L503.80 441.80L510.75 448.75L503.80 455.70zM464.05 442.56L471.00 435.61L477.95 442.56L471.00 449.51zM426.95 436.37L433.90 429.42L440.85 436.37L433.90 443.32zM387.15 430.18L394.10 423.23L401.05 430.18L394.10 437.13zM343.75 423.99L350.70 417.04L357.65 423.99L350.70 430.94zM298.85 417.80L305.80 410.85L312.75 417.80L305.80 424.75zM253.95 411.61L260.90 404.66L267.85 411.61L260.90 418.56zM210.55 405.42L217.50 398.47L224.45 405.42L217.50 412.37zM169.55 399.23L176.50 392.28L183.45 399.23L176.50 406.18zM134.15 393.04L141.10 386.09L148.05 393.04L141.10 399.99zM106.45 386.84L113.40 379.89L120.35 386.84L113.40 393.79zM89.55 380.65L96.50 373.70L103.45 380.65L96.50 387.60zM87.55 374.46L94.50 367.51L101.45 374.46L94.50 381.41zM100.15 368.27L107.10 361.32L114.05 368.27L107.10 375.22zM135.05 362.08L142.00 355.13L148.95 362.08L142.00 369.03zM194.75 355.89L201.70 348.94L208.65 355.89L201.70 362.84zM281.75 349.70L288.70 342.75L295.65 349.70L288.70 356.65zM392.85 343.51L399.80 336.56L406.75 343.51L399.80 350.46zM508.85 337.32L515.80 330.37L522.75 337.32L515.80 344.27zM587.05 331.13L594.00 324.18L600.95 331.13L594.00 338.08zM621.25 324.94L628.20 317.99L635.15 324.94L628.20 331.89zM635.75 318.75L642.70 311.80L649.65 318.75L642.70 325.70zM642.25 312.56L649.20 305.61L656.15 312.56L649.20 319.51zM646.25 306.37L653.20 299.42L660.15 306.37L653.20 313.32zM648.65 300.18L655.60 293.23L662.55 300.18L655.60 307.13zM650.15 293.99L657.10 287.04L664.05 293.99L657.10 300.94zM651.15 287.80L658.10 280.85L665.05 287.80L658.10 294.75zM651.65 281.61L658.60 274.66L665.55 281.61L658.60 288.56zM652.25 275.42L659.20 268.47L666.15 275.42L659.20 282.37zM652.85 269.23L659.80 262.28L666.75 269.23L659.80 276.18zM653.05 263.04L660.00 256.09L666.95 263.04L660.00 269.99zM653.25 256.85L660.20 249.90L667.15 256.85L660.20 263.80zM653.55 250.66L660.50 243.71L667.45 250.66L660.50 257.61zM653.95 244.47L660.90 237.52L667.85 244.47L660.90 251.42zM654.00 238.28L660.95 231.33L667.90 238.28L660.95 245.23zM654.05 232.08L661.00 225.13L667.95 232.08L661.00 239.03zM654.09 225.89L661.04 218.94L667.99 225.89L661.04 232.84zM654.12 219.70L661.07 212.75L668.02 219.70L661.07 226.65zM654.15 213.51L661.10 206.56L668.05 213.51L661.10 220.46zM654.18 207.32L661.13 200.37L668.08 207.32L661.13 214.27zM654.20 201.13L661.15 194.18L668.10 201.13L661.15 208.08zM654.21 194.94L661.16 187.99L668.11 194.94L661.16 201.89zM654.23 188.75L661.18 181.80L668.13 188.75L661.18 195.70zM654.24 182.56L661.19 175.61L668.14 182.56L661.19 189.51zM654.24 176.37L661.19 169.42L668.14 176.37L661.19 183.32zM654.25 170.18L661.20 163.23L668.15 170.18L661.20 177.13zM654.25 163.99L661.20 157.04L668.15 163.99L661.20 170.94zM654.25 157.80L661.20 150.85L668.15 157.80L661.20 164.75z" fill="#ff00ff"/>
<path d="M628.02 849.81L625.38 849.34M610.51 847.67L561.09 845.29M546.10 844.74L443.30 842.04M428.30 841.57L356.10 839.01M341.11 838.39L290.74 836.00M275.76 835.19L239.99 833.01M225.02 831.98L199.68 830.03M184.74 828.72L168.16 827.10M153.26 825.39L144.54 824.24M129.70 822.04L125.90 821.40M163.61 784.68L164.64 784.48M179.37 781.64L181.08 781.32M195.83 778.60L198.22 778.17M212.99 775.54L215.85 775.04M230.63 772.48L234.01 771.91M248.80 769.43L252.85 768.77M267.65 766.35L271.80 765.67M286.60 763.21L290.17 762.61M304.96 760.11L308.41 759.52M323.20 757.03L326.85 756.41M341.65 753.93L345.20 753.33M359.99 750.81L363.28 750.25M378.06 747.69L381.01 747.18M395.78 744.57L398.33 744.11M413.09 741.43L415.12 741.06M429.87 738.29L431.29 738.01M446.01 735.13L446.75 734.98M446.75 354.42L446.01 354.27M431.29 351.39L429.87 351.11M415.12 348.34L413.09 347.97M398.33 345.29L395.78 344.83M381.01 342.22L378.06 341.71M363.28 339.15L359.99 338.59M345.20 336.07L341.65 335.47M326.85 332.99L323.20 332.37M308.41 329.88L304.96 329.29M290.17 326.79L286.60 326.19M271.80 323.73L267.65 323.05M252.85 320.63L248.80 319.97M234.01 317.49L230.63 316.92M215.85 314.36L212.99 313.86M198.22 311.23L195.83 310.80M181.08 308.08L179.37 307.76M164.64 304.92L163.61 304.72M125.90 268.00L129.70 267.36M144.54 265.16L153.26 264.01M168.16 262.30L184.74 260.68M199.68 259.37L225.02 257.42M239.99 256.39L275.76 254.21M290.74 253.40L341.11 251.01M356.10 250.39L428.30 247.83M443.30 247.36L546.10 244.66M561.09 244.11L610.51 241.73M625.38 240.06L628.02 239.59" stroke="#808000" stroke-width="1" fill="none"/>
<path d="M653.30 927.56L667.30 927.56L660.30 939.68zM653.20 921.37L667.20 921.37L660.20 933.49zM653.10 915.18L667.10 915.18L660.10 927.30zM652.90 908.99L666.90 908.99L659.90 921.11zM652.70 902.80L666.70 902.80L659.70 914.92zM652.40 896.61L666.40 896.61L659.40 908.73zM652.00 890.42L666.00 890.42L659.00 902.54zM651.40 884.23L665.40 884.23L658.40 896.35zM650.80 878.04L664.80 878.04L657.80 890.16zM649.70 871.85L663.70 871.85L656.70 883.97zM648.20 865.66L662.20 865.66L655.20 877.78zM645.70 859.47L659.70 859.47L652.70 871.59zM640.70 853.28L654.70 853.28L647.70 865.40zM628.40 847.08L642.40 847.08L635.40 859.20zM546.60 840.89L560.60 840.89L553.60 853.01zM341.60 834.70L355.60 834.70L348.60 846.82zM225.50 828.51L239.50 828.51L232.50 840.63zM153.70 822.32L167.70 822.32L160.70 834.44zM111.50 816.13L125.50 816.13L118.50 828.25zM89.30 809.94L103.30 809.94L96.30 822.06zM86.00 803.75L100.00 803.75L93.00 815.87zM92.60 797.56L106.60 797.56L99.60 809.68zM110.30 791.37L124.30 791.37L117.30 803.49zM134.70 785.18L148.70 785.18L141.70 797.30zM165.00 778.99L179.00 778.99L172.00 791.11zM198.60 772.80L212.60 772.80L205.60 784.92zM234.40 766.61L248.40 766.61L241.40 778.73zM272.20 760.42L286.20 760.42L279.20 772.54zM308.80 754.23L322.80 754.23L315.80 766.35zM345.60 748.04L359.60 748.04L352.60 760.16zM381.40 741.85L395.40 741.85L388.40 753.97zM415.50 735.66L429.50 735.66L422.50 747.78zM447.10 729.47L461.10 729.47L454.10 741.59zM475.60 723.28L489.60 723.28L482.60 735.40zM502.10 717.09L516.10 717.09L509.10 729.21zM525.80 710.90L539.80 710.90L532.80 723.02zM546.70 704.71L560.70 704.71L553.70 716.83zM564.50 698.52L578.50 698.52L571.50 710.64zM579.80 692.32L593.80 692.32L586.80 704.44zM593.30 686.13L607.30 686.13L600.30 698.25zM604.00 679.94L618.00 679.94L611.00 692.06zM612.70 673.75L626.70 673.75L619.70 685.87zM619.90 667.56L633.90 667.56L626.90 679.68zM625.20 661.37L639.20 661.37L632.20 673.49zM630.10 655.18L644.10 655.18L637.10 667.30zM633.80 648.99L647.80 648.99L640.80 661.11zM636.90 642.80L650.90 642.80L643.90 654.92zM639.00 636.61L653.00 636.61L646.00 648.73zM640.90 630.42L654.90 630.42L647.90 642.54zM642.50 624.23L656.50 624.23L649.50 636.35zM643.70 618.04L657.70 618.04L650.70 630.16zM644.60 611.85L658.60 611.85L651.60 623.97zM645.50 605.66L659.50 605.66L652.50 617.78zM646.00 599.47L660.00 599.47L653.00 611.59zM646.50 593.28L660.50 593.28L653.50 605.40zM647.00 587.09L661.00 587.09L654.00 599.21zM647.25 580.90L661.25 580.90L654.25 593.02zM647.40 574.71L661.40 574.71L654.40 586.83zM647.50 568.52L661.50 568.52L654.50 580.64zM647.60 562.33L661.60 562.33L654.60 574.45zM647.65 556.14L661.65 556.14L654.65 568.26zM647.70 549.95L661.70 549.95L654.70 562.07zM647.70 543.76L661.70 543.76L654.70 555.88zM647.70 537.56L661.70 537.56L654.70 549.68zM647.70 531.37L661.70 531.37L654.70 543.49zM647.65 525.18L661.65 525.18L654.65 537.30zM647.60 518.99L661.60 518.99L654.60 531.11zM647.50 512.80L661.50 512.80L654.50 524.92zM647.40 506.61L661.40 506.61L654.40 518.73zM647.25 500.42L661.25 500.42L654.25 512.54zM647.00 494.23L661.00 494.23L654.00 506.35zM646.50 488.04L660.50 488.04L653.50 500.16zM646.00 481.85L660.00 481.85L653.00 493.97zM645.50 475.66L659.50 475.66L652.50 487.78zM644.60 469.47L658.60 469.47L651.60 481.59zM643.70 463.28L657.70 463.28L650.70 475.40zM642.50 457.09L656.50 457.09L649.50 469.21zM640.90 450.90L654.90 450.90L647.90 463.02zM639.00 444.71L653.00 444.71L646.00 456.83zM636.90 438.52L650.90 438.52L643.90 450.64zM633.80 432.33L647.80 432.33L640.80 444.45zM630.10 426.14L644.10 426.14L637.10 438.26zM625.20 419.95L639.20 419.95L632.20 432.07zM619.90 413.76L633.90 413.76L626.90 425.88zM612.70 407.57L626.70 407.57L619.70 419.69zM604.00 401.38L618.00 401.38L611.00 413.50zM593.30 395.19L607.30 395.19L600.30 407.31zM579.80 389.00L593.80 389.00L586.80 401.12zM564.50 382.80L578.50 382.80L571.50 394.92zM546.70 376.61L560.70 376.61L553.70 388.73zM525.80 370.42L539.80 370.42L532.80 382.54zM502.10 364.23L516.10 364.23L509.10 376.35zM475.60 358.04L489.60 358.04L482.60 370.16zM447.10 351.85L461.10 351.85L454.10 363.97zM415.50 345.66L429.50 345.66L422.50 357.78zM381.40 339.47L395.40 339.47L388.40 351.59zM345.60 333.28L359.60 333.28L352.60 345.40zM308.80 327.09L322.80 327.09L315.80 339.21zM272.20 320.90L286.20 320.90L279.20 333.02zM234.40 314.71L248.40 314.71L241.40 326.83zM198.60 308.52L212.60 308.52L205.60 320.64zM165.00 302.33L179.00 302.33L172.00 314.45zM134.70 296.14L148.70 296.14L141.70 308.26zM110.30 289.95L124.30 289.95L117.30 302.07zM92.60 283.76L106.60 283.76L99.60 295.88zM86.00 277.57L100.00 277.57L93.00 289.69zM89.30 271.38L103.30 271.38L96.30 283.50zM111.50 265.19L125.50 265.19L118.50 277.31zM153.70 259.00L167.70 259.00L160.70 271.12zM225.50 252.81L239.50 252.81L232.50 264.93zM341.60 246.62L355.60 246.62L348.60 258.74zM546.60 240.43L560.60 240.43L553.60 252.55zM628.40 234.24L642.40 234.24L635.40 246.36zM640.70 228.04L654.70 228.04L647.70 240.16zM645.70 221.85L659.70 221.85L652.70 233.97zM648.20 215.66L662.20 215.66L655.20 227.78zM649.70 209.47L663.70 209.47L656.70 221.59zM650.80 203.28L664.80 203.28L657.80 215.40zM651.40 197.09L665.40 197.09L658.40 209.21zM652.00 190.90L666.00 190.90L659.00 203.02zM652.40 184.71L666.40 184.71L659.40 196.83zM652.70 178.52L666.70 178.52L659.70 190.64zM652.90 172.33L666.90 172.33L659.90 184.45zM653.10 166.14L667.10 166.14L660.10 178.26zM653.20 159.95L667.20 159.95L660.20 172.07zM653.30 153.76L667.30 153.76L660.30 165.88z" fill="#808000"/>
</g>
<rect x="661.25" y="157.8" width="0.95" height="773.80" fill="#000"/>
<path d="M91.75 156.70000000000002V932.7M90.65 157.8H662.25M91.75 931.60h11.9M91.75 854.22h6.6M91.75 776.84h11.9M91.75 699.46h6.6M91.75 622.08h11.9M91.75 544.70h6.6M91.75 467.32h11.9M91.75 389.94h6.6M91.75 312.56h11.9M91.75 235.18h6.6M91.75 157.80h11.9M661.15 157.8v11.9M604.34 157.8v6.6M547.39 157.8v11.9M490.43 157.8v6.6M433.48 157.8v11.9M376.52 157.8v6.6M319.57 157.8v11.9M262.61 157.8v6.6M205.66 157.8v11.9M148.70 157.8v6.6M91.75 157.8v11.9" stroke="#000" stroke-width="2.2" fill="none" stroke-linecap="butt"/>
<g font-family="Liberation Sans, sans-serif" font-weight="bold" fill="#000" font-size="28.5">
<text transform="translate(669.30 944.4) rotate(-90) scale(0.97 1.05)" text-anchor="end">0.0</text>
<text transform="translate(612.34 944.4) rotate(-90) scale(0.97 1.05)" text-anchor="end">0.1</text>
<text transform="translate(555.39 944.4) rotate(-90) scale(0.97 1.05)" text-anchor="end">0.2</text>
<text transform="translate(498.43 944.4) rotate(-90) scale(0.97 1.05)" text-anchor="end">0.3</text>
<text transform="translate(441.48 944.4) rotate(-90) scale(0.97 1.05)" text-anchor="end">0.4</text>
<text transform="translate(384.52 944.4) rotate(-90) scale(0.97 1.05)" text-anchor="end">0.5</text>
<text transform="translate(327.57 944.4) rotate(-90) scale(0.97 1.05)" text-anchor="end">0.6</text>
<text transform="translate(270.61 944.4) rotate(-90) scale(0.97 1.05)" text-anchor="end">0.7</text>
<text transform="translate(213.66 944.4) rotate(-90) scale(0.97 1.05)" text-anchor="end">0.8</text>
<text transform="translate(156.70 944.4) rotate(-90) scale(0.97 1.05)" text-anchor="end">0.9</text>
<text transform="translate(99.75 944.4) rotate(-90) scale(0.97 1.05)" text-anchor="end">1.0</text>
<text transform="translate(695.8 931.20) rotate(-90) scale(0.97 1.05)" text-anchor="middle">-3.0</text>
<text transform="translate(695.8 853.82) rotate(-90) scale(0.97 1.05)" text-anchor="middle">-2.5</text>
<text transform="translate(695.8 776.44) rotate(-90) scale(0.97 1.05)" text-anchor="middle">-2.0</text>
<text transform="translate(695.8 699.06) rotate(-90) scale(0.97 1.05)" text-anchor="middle">-1.5</text>
<text transform="translate(695.8 621.68) rotate(-90) scale(0.97 1.05)" text-anchor="middle">-1.0</text>
<text transform="translate(695.8 544.30) rotate(-90) scale(0.97 1.05)" text-anchor="middle">-0.5</text>
<text transform="translate(695.8 466.92) rotate(-90) scale(0.97 1.05)" text-anchor="middle">0.0</text>
<text transform="translate(695.8 389.54) rotate(-90) scale(0.97 1.05)" text-anchor="middle">0.5</text>
<text transform="translate(695.8 312.16) rotate(-90) scale(0.97 1.05)" text-anchor="middle">1.0</text>
<text transform="translate(695.8 234.78) rotate(-90) scale(0.97 1.05)" text-anchor="middle">1.5</text>
<text transform="translate(695.8 157.40) rotate(-90) scale(0.97 1.05)" text-anchor="middle">2.0</text>
</g>
<text font-family="Liberation Sans, sans-serif" font-weight="bold" fill="#000" font-size="46" transform="translate(581.9 1001.7) rotate(180) scale(1 1.065)">Conductance(2e<tspan font-size="27" dy="-24.1">2</tspan><tspan dy="24.1">/h)</tspan></text>
<text font-family="Liberation Sans, sans-serif" font-weight="bold" fill="#000" font-size="51.5" transform="translate(749.4 586) rotate(-90) scale(1 1.03)">V<tspan font-size="31" dy="19.2">g</tspan><tspan dy="-19.2">/</tspan></text>
<text font-family="Liberation Sans, sans-serif" font-weight="bold" fill="#000" font-size="51.5" transform="translate(749.4 516.9) rotate(-90) scale(0.916 1.03)">U</text>
</svg>
</body></html>
